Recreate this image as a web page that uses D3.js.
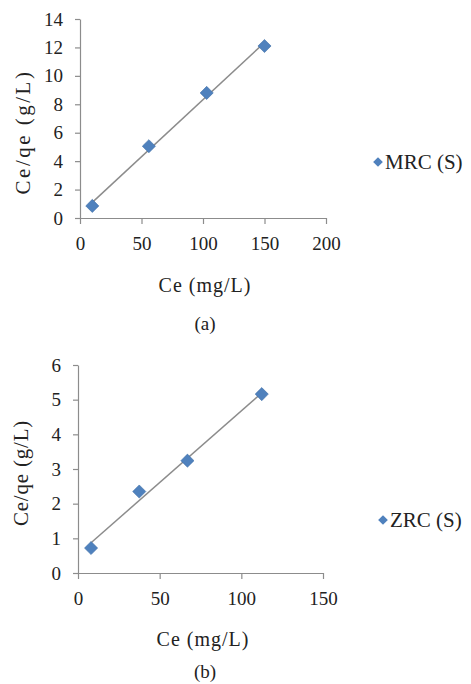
<!DOCTYPE html>
<html><head><meta charset="utf-8">
<script src="https://cdn.jsdelivr.net/npm/d3@7/dist/d3.min.js"></script>
</head>
<body style="margin:0"><svg id="c" width="471" height="684"></svg>
<script>
// Chart (a) MRC (S)
const ceA = [10, 56, 103, 150];
const ratioA = [0.85, 5.05, 8.8, 12.1];
const xTicksA = [0, 50, 100, 150, 200];
const yTicksA = [0, 2, 4, 6, 8, 10, 12, 14];
// Chart (b) ZRC (S)
const ceB = [8, 37.5, 67, 112.5];
const ratioB = [0.72, 2.35, 3.24, 5.16];
const xTicksB = [0, 50, 100, 150];
const yTicksB = [0, 1, 2, 3, 4, 5, 6];

const svg = d3.select("#c");
const blue = "#4f81bd", grey = "#8c8c8c";

function panel(cfg){
  const x = d3.scaleLinear().domain([0, cfg.xMax]).range([cfg.x0, cfg.x1]);
  const y = d3.scaleLinear().domain([0, cfg.yMax]).range([cfg.y0, cfg.y1]);
  const fmt = d3.format("d");
  const xa = svg.append("g").attr("transform",`translate(0,${cfg.y0})`)
    .call(d3.axisBottom(x).tickValues(cfg.xTicks).tickFormat(fmt).tickSize(6).tickPadding(13).tickSizeOuter(0));
  const ya = svg.append("g").attr("transform",`translate(${cfg.x0},0)`)
    .call(d3.axisLeft(y).tickValues(cfg.yTicks).tickFormat(fmt).tickSize(5).tickPadding(12).tickSizeOuter(0));
  [xa, ya].forEach(a=>{
    a.attr("font-family", "'Liberation Serif'").attr("font-size", 19);
    a.select(".domain").attr("stroke", grey).attr("stroke-width",1.2);
    a.selectAll(".tick line").attr("stroke", grey).attr("stroke-width",1.2);
    a.selectAll(".tick text").attr("fill","#222");
  });
  // regression trendline
  const xs = cfg.xs, ys = cfg.ys;
  const mx = d3.mean(xs), my = d3.mean(ys);
  const b = d3.sum(xs.map((v,i)=>(v-mx)*(ys[i]-my))) / d3.sum(xs.map(v=>(v-mx)*(v-mx)));
  const a0 = my - b*mx;
  const ext = d3.extent(xs);
  svg.append("line").attr("x1", x(ext[0])).attr("y1", y(a0+b*ext[0]))
    .attr("x2", x(ext[1])).attr("y2", y(a0+b*ext[1]))
    .attr("stroke", grey).attr("stroke-width", 1.5);
  const sym = d3.symbol().type(d3.symbolDiamond2).size(110);
  svg.append("g").selectAll("path").data(xs).join("path")
    .attr("transform",(d,i)=>`translate(${x(d)},${y(ys[i])})`)
    .attr("d", sym).attr("fill", blue).attr("stroke","#3d6da6").attr("stroke-width",0.6);
  // texts: appended directly to svg
  const labels = [
    {t:"Ce (mg/L)", x:cfg.xtX, y:cfg.xtY, s:20, a:"middle", ls:1, r:0},
    {t:"Ce/qe (g/L)", x:cfg.ytX, y:cfg.ytY, s:21, a:"middle", ls:cfg.ytLS, r:-90},
    {t:cfg.cap, x:205, y:cfg.capY, s:19, a:"middle", ls:0, r:0},
    {t:cfg.name, x:cfg.lgX+7, y:cfg.lgY+7, s:21, a:"start", ls:0, r:0}
  ];
  svg.selectAll(null).data(labels).join("text")
    .attr("transform", d=>`translate(${d.x},${d.y}) rotate(${d.r})`)
    .attr("font-size", d=>d.s).attr("font-family", "'Liberation Serif'")
    .attr("text-anchor", d=>d.a).attr("letter-spacing", d=>d.ls).attr("fill","#222")
    .text(d=>d.t);
  // legend marker
  svg.append("path").attr("transform",`translate(${cfg.lgX},${cfg.lgY})`)
    .attr("d", d3.symbol().type(d3.symbolDiamond2).size(60)).attr("fill", blue);
}

panel({xs: ceA, ys: ratioA, xMax: 200, yMax: 14, xTicks: xTicksA, yTicks: yTicksA,
  x0: 80, x1: 326, y0: 218, y1: 19, xtX: 205, xtY: 292, ytX: 30, ytY: 132, ytLS: 2.5,
  capY: 330, cap: "(a)", lgX: 378, lgY: 162, name: "MRC (S)"});
panel({xs: ceB, ys: ratioB, xMax: 150, yMax: 6, xTicks: xTicksB, yTicks: yTicksB,
  x0: 78, x1: 323, y0: 573, y1: 365, xtX: 203, xtY: 646, ytX: 28, ytY: 473, ytLS: 0.8,
  capY: 678, cap: "(b)", lgX: 383, lgY: 520, name: "ZRC (S)"});
</script></body></html>
